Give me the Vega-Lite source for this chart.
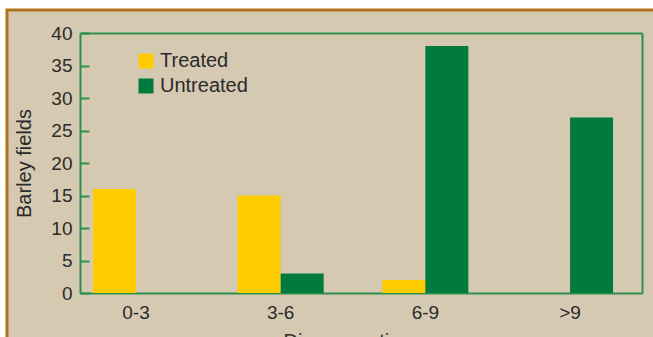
{
  "$schema": "https://vega.github.io/schema/vega-lite/v6.json",
  "width": 646,
  "height": 327,
  "autosize": {"type": "none"},
  "padding": {"left": 7, "top": 10, "right": 0, "bottom": 0},
  "background": "#ffffff",
  "config": {
    "font": "Liberation Sans",
    "view": {"fill": "#D5C9B1", "stroke": "#B2701C", "strokeWidth": 3, "strokeDash": [646, 973]},
    "axis": {"grid": false, "domainColor": "#2F8F4E", "domainWidth": 2, "labelColor": "#2b2b2b", "titleColor": "#2b2b2b", "labelFont": "Liberation Sans", "titleFont": "Liberation Sans"},
    "legend": {"labelFont": "Liberation Sans"}
  },
  "data": {
    "values": [
      {"rating": "0-3", "group": "Treated", "fields": 16},
      {"rating": "0-3", "group": "Untreated", "fields": 0},
      {"rating": "3-6", "group": "Treated", "fields": 15},
      {"rating": "3-6", "group": "Untreated", "fields": 3},
      {"rating": "6-9", "group": "Treated", "fields": 2},
      {"rating": "6-9", "group": "Untreated", "fields": 38},
      {"rating": ">9", "group": "Treated", "fields": 0},
      {"rating": ">9", "group": "Untreated", "fields": 27}
    ]
  },
  "layer": [
    {
      "transform": [{"filter": "datum.group === 'Treated'"}],
      "mark": {"type": "bar"},
      "encoding": {
        "x": {
          "field": "rating", "type": "nominal", "sort": ["0-3", "3-6", "6-9", ">9"],
          "scale": {"range": [73, 635], "paddingInner": 0.406, "paddingOuter": 0.145, "align": 0.31},
          "axis": {
            "orient": "bottom", "offset": -44, "ticks": false, "labelAngle": 0,
            "labelFontSize": 19, "labelPadding": 10,
            "title": "Disease rating", "titleFontSize": 20, "titleFontWeight": "normal",
            "titleX": 340, "titleY": 54, "titleAlign": "center", "titleBaseline": "alphabetic"
          }
        },
        "xOffset": {"field": "group", "type": "nominal", "scale": {"domain": ["Treated", "Untreated"]}},
        "y": {
          "field": "fields", "type": "quantitative",
          "scale": {"domain": [0, 40], "range": [283, 23]},
          "axis": {
            "orient": "left", "offset": -73, "values": [0, 5, 10, 15, 20, 25, 30, 35, 40],
            "tickSize": -9, "tickColor": "#2F8F4E", "tickWidth": 2,
            "labelFontSize": 19, "labelPadding": 17,
            "title": "Barley fields", "titleFontSize": 20, "titleFontWeight": "normal",
            "titleAngle": -90, "titleX": -50, "titleY": 153, "titleAlign": "center", "titleBaseline": "alphabetic"
          }
        },
        "color": {
          "field": "group", "type": "nominal",
          "scale": {"domain": ["Treated", "Untreated"], "range": ["#FFCC00", "#007A3D"]},
          "legend": {
            "orient": "none", "legendX": 129, "legendY": 41, "title": null, "padding": 0,
            "symbolType": "square", "symbolSize": 225, "symbolStrokeWidth": 0, "symbolOpacity": 1,
            "labelFontSize": 20, "labelColor": "#2b2b2b", "labelOffset": 4, "rowPadding": 5
          }
        }
      }
    },
    {
      "transform": [{"filter": "datum.group === 'Untreated'"}],
      "mark": {"type": "bar"},
      "encoding": {
        "x": {
          "field": "rating", "type": "nominal", "sort": ["0-3", "3-6", "6-9", ">9"],
          "axis": {"orient": "top", "offset": -23, "ticks": false, "labels": false, "title": null}
        },
        "xOffset": {"field": "group", "type": "nominal", "scale": {"domain": ["Treated", "Untreated"]}},
        "y": {
          "field": "fields", "type": "quantitative",
          "axis": {"orient": "right", "offset": -11, "ticks": false, "labels": false, "title": null}
        },
        "color": {
          "field": "group", "type": "nominal",
          "scale": {"domain": ["Treated", "Untreated"], "range": ["#FFCC00", "#007A3D"]}
        }
      }
    }
  ],
  "resolve": {"axis": {"x": "independent", "y": "independent"}}
}
